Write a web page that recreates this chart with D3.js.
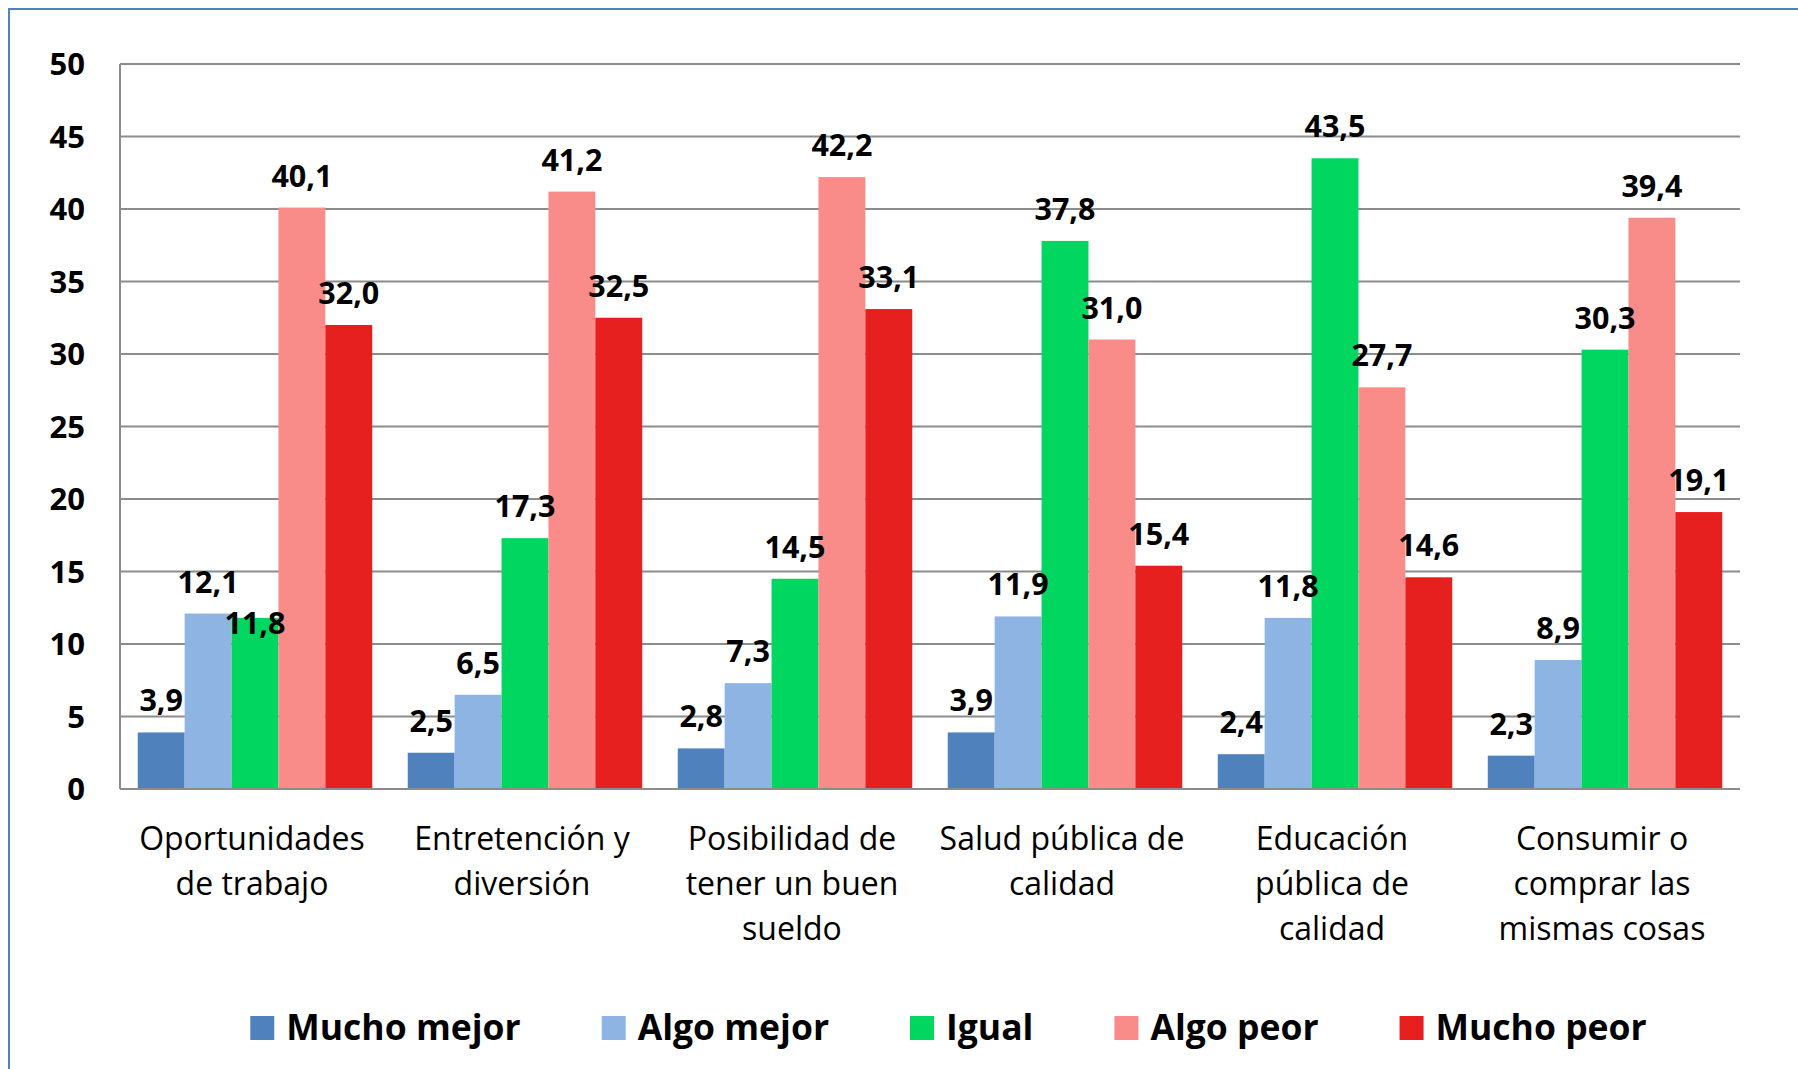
<!DOCTYPE html>
<html>
<head>
<meta charset="utf-8">
<script src="https://cdn.jsdelivr.net/npm/d3@7"></script>
<style>
  body { margin: 0; background: #ffffff; }
  svg { display: block; }
</style>
</head>
<body>
<div id="chart"></div>
<script>
// categories (one array of lines per tick label)
let categories = [
  ["Oportunidades", "de trabajo"],
  ["Entretención y", "diversión"],
  ["Posibilidad de", "tener un buen", "sueldo"],
  ["Salud pública de", "calidad"],
  ["Educación", "pública de", "calidad"],
  ["Consumir o", "comprar las", "mismas cosas"]
];
let seriesNames = ["Mucho mejor", "Algo mejor", "Igual", "Algo peor", "Mucho peor"];
let seriesColors = ["#4f81bd", "#8eb4e3", "#00d660", "#f98b88", "#e61f1f"];

// values per series, in category order
let muchoMejor = [3.9, 2.5, 2.8, 3.9, 2.4, 2.3];
let algoMejor  = [12.1, 6.5, 7.3, 11.9, 11.8, 8.9];
let igual      = [11.8, 17.3, 14.5, 37.8, 43.5, 30.3];
let algoPeor   = [40.1, 41.2, 42.2, 31.0, 27.7, 39.4];
let muchoPeor  = [32.0, 32.5, 33.1, 15.4, 14.6, 19.1];
let yTicks = [0, 5, 10, 15, 20, 25, 30, 35, 40, 45, 50];

let series = [muchoMejor, algoMejor, igual, algoPeor, muchoPeor];

let W = 1798, H = 1069;
let plot = { left: 120, right: 1740, top: 64, bottom: 789 };

let svg = d3.select("#chart")
            .append("svg")
            .attr("width", W)
            .attr("height", H);

// outer chart frame (runs off the right and bottom edges)
svg.append("rect")
   .attr("x", 9).attr("y", 9)
   .attr("width", W).attr("height", H)
   .attr("fill", "none")
   .attr("stroke", "#4f81bd")
   .attr("stroke-width", 2);

let catIdx = d3.range(categories.length);

let x0 = d3.scaleBand()
           .domain(catIdx)
           .range([plot.left, plot.right])
           .paddingInner(0.1315)
           .paddingOuter(0.0657);

let x1 = d3.scaleBand()
           .domain(d3.range(series.length))
           .range([0, x0.bandwidth()])
           .padding(0);

let y = d3.scaleLinear()
          .domain([0, 50])
          .range([plot.bottom, plot.top]);

// gridlines
svg.append("g")
   .selectAll("line")
   .data(yTicks)
   .enter()
   .append("line")
   .attr("x1", plot.left)
   .attr("x2", plot.right)
   .attr("y1", d => y(d))
   .attr("y2", d => y(d))
   .style("stroke", "#8c8c8c")
   .style("stroke-width", 2);

// y axis line
svg.append("line")
   .attr("x1", plot.left).attr("x2", plot.left)
   .attr("y1", y(50)).attr("y2", y(0))
   .style("stroke", "#8c8c8c")
   .style("stroke-width", 2);

// y tick labels
svg.append("g")
   .selectAll("text")
   .data(yTicks)
   .enter()
   .append("text")
   .attr("x", 85)
   .attr("y", d => y(d) + 11)
   .attr("text-anchor", "end")
   .style("font-family", "'Open Sans', sans-serif")
   .style("font-weight", "bold")
   .style("font-size", "31px")
   .style("fill", "#000")
   .text(d => d);

// bars
let groups = svg.append("g")
                .selectAll("g")
                .data(catIdx)
                .enter()
                .append("g")
                .attr("transform", d => "translate(" + x0(d) + ",0)");

groups.selectAll("rect")
      .data(c => series.map((s, i) => ({ s: i, v: s[c] })))
      .enter()
      .append("rect")
      .attr("x", d => x1(d.s))
      .attr("y", d => y(d.v))
      .attr("width", x1.bandwidth())
      .attr("height", d => y(0) - y(d.v))
      .style("fill", d => seriesColors[d.s]);

// redraw x axis on top of bars
svg.append("line")
   .attr("x1", plot.left).attr("x2", plot.right)
   .attr("y1", y(0)).attr("y2", y(0))
   .style("stroke", "#8c8c8c")
   .style("stroke-width", 2);

// value labels, pushed down a line when they run into the previous one
let fmt = v => v.toFixed(1).replace(".", ",");
let labelLayer = svg.append("g");
catIdx.forEach(c => {
  let prev = null;
  series.forEach((s, i) => {
    let cx = x0(c) + x1(i) + x1.bandwidth() / 2;
    let by = y(s[c]) - 21;
    let t = labelLayer.append("text")
                      .attr("x", cx)
                      .attr("y", by)
                      .attr("text-anchor", "middle")
                      .style("font-family", "'Open Sans', sans-serif")
                      .style("font-weight", "bold")
                      .style("font-size", "30.5px")
                      .style("fill", "#000")
                      .text(fmt(s[c]));
    let w = t.node().getComputedTextLength();
    if (prev && cx - w / 2 < prev.right && Math.abs(by - prev.y) < 30) {
      by = prev.y + 41;
      t.attr("y", by);
    }
    prev = { right: cx + w / 2, y: by };
  });
});

// category labels
let catLabels = svg.append("g")
                   .selectAll("text")
                   .data(catIdx)
                   .enter()
                   .append("text")
                   .attr("text-anchor", "middle")
                   .style("font-family", "'Open Sans', sans-serif")
                   .style("font-size", "32px")
                   .style("fill", "#000");

catLabels.selectAll("tspan")
         .data(c => categories[c].map(l => ({ c: c, l: l })))
         .enter()
         .append("tspan")
         .attr("x", d => x0(d.c) + x0.bandwidth() / 2 - 3)
         .attr("y", (d, i) => 850 + i * 45)
         .text(d => d.l);

// legend
let legend = svg.append("g");
let lx = 0;
seriesNames.forEach((name, i) => {
  let g = legend.append("g").attr("transform", "translate(" + lx + ",0)");
  g.append("rect")
   .attr("x", 0).attr("y", 1016)
   .attr("width", 24).attr("height", 24)
   .style("fill", seriesColors[i]);
  let t = g.append("text")
           .attr("x", 36)
           .attr("y", 1040)
           .style("font-family", "'Open Sans', sans-serif")
           .style("font-weight", "bold")
           .style("font-size", "35.5px")
           .style("fill", "#000")
           .text(name);
  lx += 36 + t.node().getComputedTextLength() + 81;
});
let legendWidth = lx - 81;
legend.attr("transform", "translate(" + (948.5 - legendWidth / 2) + ",0)");
</script>
</body>
</html>
